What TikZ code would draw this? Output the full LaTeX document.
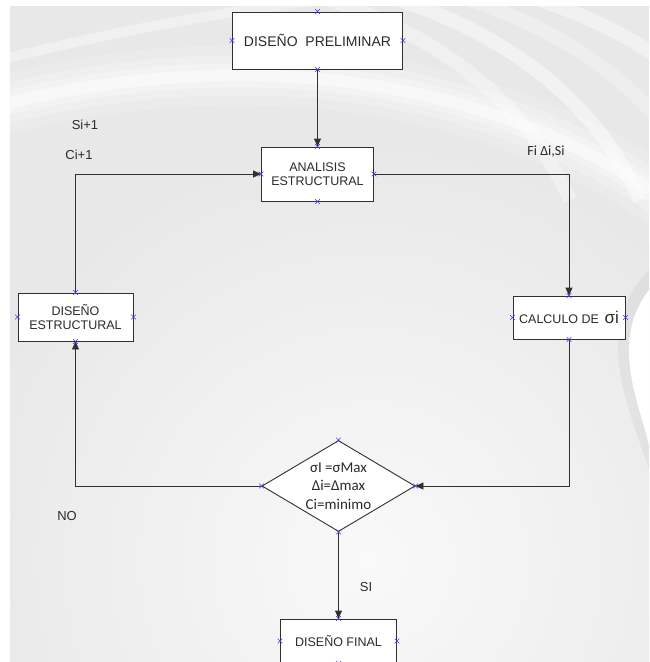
\documentclass[tikz,border=0pt]{standalone}
\usepackage{fontspec}
\setmainfont{Liberation Sans}
\newfontfamily\calib{Carlito}
\usetikzlibrary{shapes.geometric,shapes.misc,arrows.meta}

\definecolor{bgbase}{HTML}{E8E8E8}
\definecolor{bglight}{HTML}{F9F9F9}
\definecolor{edge}{HTML}{303030}
\definecolor{ink}{HTML}{2A2A2A}
\definecolor{pin}{HTML}{3A3AF0}

\tikzset{
  box/.style={draw=edge, fill=white, line width=0.9pt, inner sep=0pt,
              align=center, text=ink, font=\fontsize{12.5}{14.5}\selectfont},
  conn/.style={draw=edge, line width=0.9pt,
               -{Triangle[length=8pt,width=7pt]}},
  cmark/.style={cross out, draw=pin, line width=0.6pt, minimum size=4pt, inner sep=0pt},
  lbl/.style={text=ink, inner sep=0pt, font=\fontsize{13}{15}\selectfont},
  glow/.style={white, line cap=butt}
}

\begin{document}
\begin{tikzpicture}[x=1pt,y=-1pt]
  % page and slide background
  \useasboundingbox (0,0) rectangle (649,662);
  \clip (0,0) rectangle (649,662);
  \fill[white] (0,0) rectangle (649,662);
  \begin{scope}
    \clip (10,6) rectangle (649,662);
    \fill[bgbase] (0,0) rectangle (649,662);
    \shade[inner color=bglight, outer color=bgbase] (370,560) circle (420);
    % soft light band across the upper part
    \foreach \w/\o in {60/0.15,40/0.2,24/0.3,12/0.45}
      \draw[glow, opacity=\o, line width=\w pt] (0,105)
        .. controls (200,55) and (470,55) .. (680,210);
    % thin band near the top left
    \draw[glow, opacity=0.35, line width=10pt] (0,60)
        .. controls (100,35) and (200,15) .. (320,0);
    % diagonal streaks at the upper right
    \foreach \a/\o in {330/0.35,400/0.45,470/0.3,540/0.4}
      \draw[glow, opacity=\o, line width=14pt] (\a,0)
        .. controls (\a+120,40) and (\a+200,110) .. (\a+240,200);
    % curved edge at the lower right
    \fill[black, opacity=0.04] (649,270) .. controls (590,330) and (630,410) .. (649,470)
        -- cycle;
    \fill[white] (649,290) .. controls (610,340) and (638,400) .. (649,445)
        -- cycle;
  \end{scope}

  % process boxes
  \node[box, minimum width=170pt, minimum height=57pt,
        font=\fontsize{14}{16}\selectfont] (prelim) at (317.5,40.5)
        {DISEÑO\ \ PRELIMINAR};
  \node[box, minimum width=112pt, minimum height=54pt] (analisis) at (317.5,174)
        {ANALISIS\\ESTRUCTURAL};
  \node[box, minimum width=115pt, minimum height=48pt] (estruct) at (75.5,317)
        {DISEÑO\\ESTRUCTURAL};
  \node[box, minimum width=112pt, minimum height=43pt] (calculo) at (569,317.5)
        {CALCULO DE\ \,{\fontsize{17}{17}\selectfont σi}};
  \node[box, minimum width=116pt, minimum height=44pt] (final) at (338.5,641)
        {DISEÑO FINAL};

  % decision
  \node[diamond, draw=edge, fill=white, line width=0.9pt, inner sep=0pt,
        minimum width=153pt, minimum height=91pt] (dec) at (338.5,486) {};
  \node[text=ink, align=center, inner sep=0pt,
        font=\calib\fontsize{15}{18.5}\selectfont] (dectext) at (338.5,486)
        {σI =σMax\\Δi=Δmax\\Ci=minimo};

  % connectors
  \draw[conn] (prelim.south) -- (analisis.north);
  \draw[conn] (analisis.east) -| (calculo.north);
  \draw[conn] (calculo.south) |- (dec.east);
  \draw[conn] (dec.west) -| (estruct.south);
  \draw[conn] (estruct.north) |- (analisis.west);
  \draw[conn] (dec.south) -- (final.north);

  % labels
  \node[lbl] (si1) at (85,125) {Si+1};
  \node[lbl] (ci1) at (79,155) {Ci+1};
  \node[lbl, font=\calib\fontsize{14}{16}\selectfont] (fi) at (546,152) {Fi Δi,Si};
  \node[lbl] (no) at (67,516) {NO};
  \node[lbl] (si) at (366,587) {SI};

  % connection points
  \foreach \n in {prelim,analisis,estruct,calculo,dec,final}
    \foreach \a in {north,south,east,west}
      \node[cmark] at (\n.\a) {};
\end{tikzpicture}
\end{document}
